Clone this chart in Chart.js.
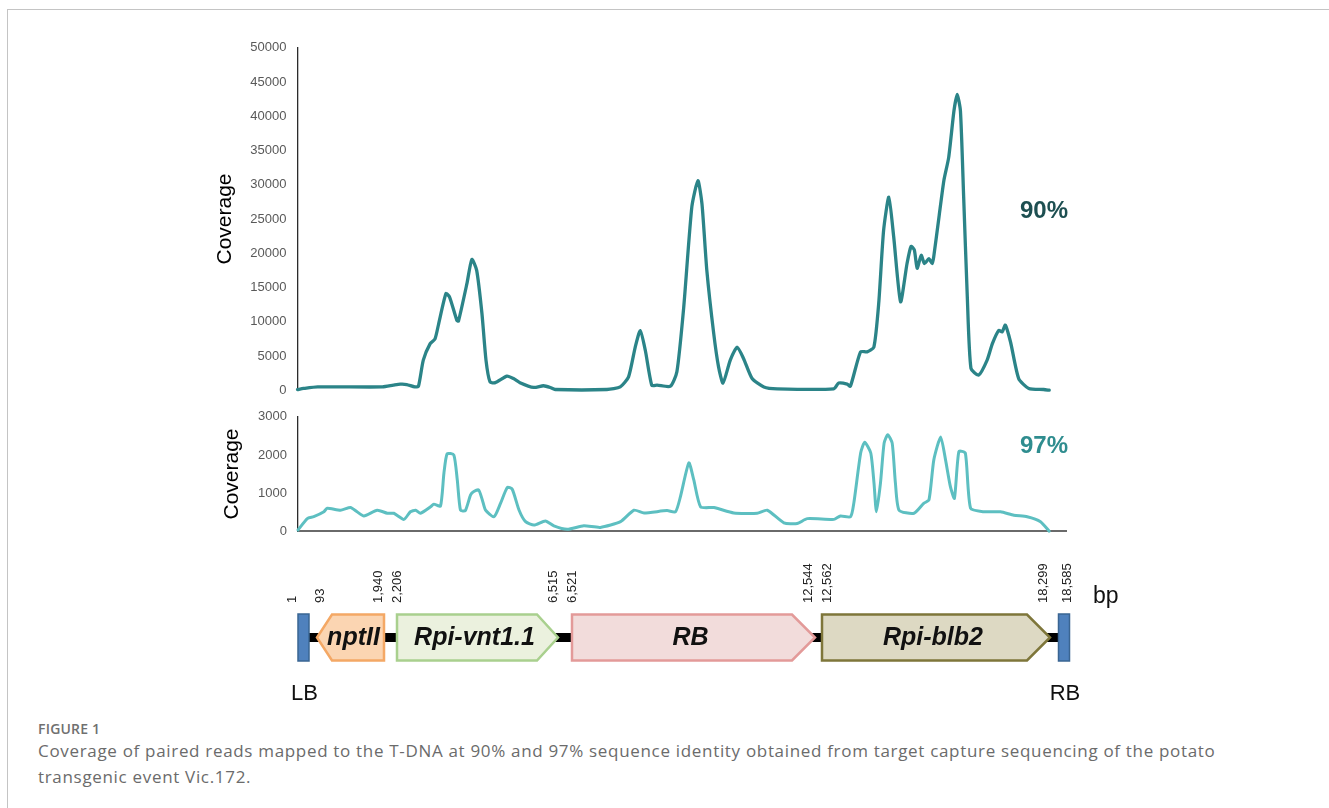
<!DOCTYPE html>
<html>
<head>
<meta charset="utf-8">
<script src="https://cdn.jsdelivr.net/npm/chart.js@4.4.1/dist/chart.umd.min.js"></script>
<style>
  html, body { margin: 0; padding: 0; background: #fff; }
  body { width: 1329px; height: 808px; position: relative; overflow: hidden; font-family: "Liberation Sans", Arial, sans-serif; }
  .frame { position: absolute; left: 7px; top: 9px; right: 0; bottom: 0; border-top: 1px solid #c4c4c4; border-left: 1px solid #c4c4c4; }
  .panel { position: absolute; line-height: 0; }
  .pct { position: absolute; font-family: "Liberation Sans", Arial, sans-serif; font-weight: bold; font-size: 24px; line-height: 28px; }
  .fig { position: absolute; left: 38px; top: 721px; font-family: "Open Sans", sans-serif; font-weight: 600; font-size: 14px; line-height: 16px; letter-spacing: 0.2px; color: #707070; }
  .cap { position: absolute; left: 38px; top: 738px; font-family: "Open Sans", sans-serif; font-size: 17px; line-height: 26px; letter-spacing: 0.68px; color: #6b6b6b; white-space: nowrap; }
</style>
</head>
<body>
<div class="frame"></div>
<div class="panel" style="left:200px;top:29px;"><canvas id="cov90" width="900" height="380"></canvas></div>
<div class="panel" style="left:200px;top:398px;"><canvas id="cov97" width="900" height="152"></canvas></div>
<div class="panel" style="left:200px;top:540px;"><canvas id="tdna" width="950" height="180"></canvas></div>
<div class="pct" style="left:1020px;top:196px;color:#1d4f51;">90%</div>
<div class="pct" style="left:1020px;top:431px;color:#2f8d8f;">97%</div>
<div class="fig">FIGURE 1</div>
<div class="cap">Coverage of paired reads mapped to the T-DNA at 90% and 97% sequence identity obtained from target capture sequencing of the potato<br>transgenic event Vic.172.</div>

<script>
// Read coverage along the T-DNA (position in bp) at 90% identity
const pos90 = [0, 150, 500, 2100, 2370, 2540, 2700, 2900, 2990, 3110, 3280, 3400, 3490, 3670, 3760, 3940, 3980, 4190, 4310, 4430,
  4560, 4660, 4760, 4890, 5180, 5340, 5500, 5840, 6080, 6250, 6370, 7650, 7980, 8185, 8350, 8474, 8600, 8760, 8890, 9220,
  9380, 9550, 9750, 9900, 10000, 10120, 10290, 10410, 10520, 10700, 10870, 11030, 11240, 11530, 11860, 13260, 13380, 13590, 13670, 13920,
  14080, 14250, 14370, 14490, 14620, 14740, 14910, 15070, 15170, 15250, 15320, 15420, 15500, 15610, 15690, 15730, 15860, 15980, 16100, 16230,
  16310, 16390, 16470, 16560, 16650, 16840, 17050, 17180, 17340, 17420, 17500, 17630, 17830, 18080, 18450, 18585];
const cov90 = [100, 250, 480, 480, 730, 875, 830, 480, 580, 4400, 6800, 7500, 9700, 14100, 13600, 10200, 10100, 15600, 19100, 17500,
  11200, 4400, 1200, 1100, 2050, 1700, 1100, 400, 650, 400, 100, 100, 480, 1950, 6300, 8700, 5800, 700, 730, 580,
  2700, 12200, 26800, 30600, 27200, 17500, 8300, 3400, 1050, 4400, 6300, 4600, 1700, 480, 200, 200, 1050, 900, 580, 5600,
  5600, 6300, 12700, 23300, 28200, 22400, 12900, 18500, 21000, 20500, 17800, 19700, 18500, 19200, 18500, 19500, 25300, 30600, 34000, 40800,
  43200, 40800, 28200, 13600, 3200, 2200, 4400, 6800, 8750, 8500, 9500, 7000, 1700, 250, 100, 0];

// Read coverage at 97% identity
const pos97 = [0, 230, 390, 640, 720, 1050, 1300, 1460, 1630, 1960, 2210, 2370, 2620, 2780, 2910, 3030, 3280, 3360, 3525, 3610,
  3690, 3855, 3940, 4020, 4140, 4270, 4350, 4470, 4560, 4640, 4850, 5010, 5180, 5300, 5470, 5630, 5840, 6120, 6330, 6660,
  7070, 7480, 7980, 8310, 8560, 9130, 9340, 9460, 9670, 9790, 9960, 10290, 10780, 11360, 11610, 12020, 12350, 12600, 13260, 13420,
  13670, 13750, 13920, 14020, 14170, 14250, 14310, 14410, 14500, 14590, 14700, 14780, 14870, 15240, 15480, 15610, 15730, 15900, 16020, 16140,
  16240, 16350, 16510, 16640, 16970, 17380, 17710, 18040, 18370, 18585];
const cov97 = [30, 330, 380, 510, 600, 550, 620, 510, 400, 550, 470, 470, 310, 510, 550, 470, 640, 710, 660, 1520,
  2030, 2000, 1350, 550, 540, 950, 1040, 1080, 820, 550, 380, 730, 1150, 1100, 550, 250, 160, 270, 140, 50,
  140, 100, 250, 550, 480, 540, 510, 900, 1790, 1350, 640, 620, 480, 470, 550, 220, 200, 330, 310, 400,
  380, 730, 2050, 2330, 2050, 1260, 510, 1260, 2310, 2530, 2310, 1260, 550, 470, 730, 820, 1870, 2470, 1870, 1170,
  860, 2090, 2050, 600, 510, 510, 420, 380, 250, 0];

// T-DNA map (schematic units along the map)
const geneNames  = ['nptII', 'Rpi-vnt1.1', 'RB', 'Rpi-blb2'];
const geneStart  = [29, 109, 284, 534];
const geneEnd    = [96, 270, 527, 762];
const geneStrand = [-1, 1, 1, 1];
const borderNames = ['LB', 'RB'];
const borderPos   = [15.5, 776];
const bpLabels = ['1', '93', '1,940', '2,206', '6,515', '6,521', '12,544', '12,562', '18,299', '18,585'];
const bpLabelPos = [4, 32, 90, 109, 265, 284, 520, 539, 755, 779];

const FONT = '"Liberation Sans", Arial, sans-serif';

function toPoints(xs, ys) { return xs.map((x, i) => ({ x: x, y: ys[i] })); }

function coverageChart(id, xs, ys, opt) {
  return new Chart(document.getElementById(id), {
    type: 'line',
    data: { datasets: [{
      data: toPoints(xs, ys),
      borderColor: opt.color,
      borderWidth: opt.width,
      pointRadius: 0,
      tension: 0.2,
      borderJoinStyle: 'round',
      borderCapStyle: 'round',
      clip: false
    }] },
    options: {
      responsive: false,
      animation: false,
      layout: { padding: opt.padding },
      plugins: { legend: { display: false }, tooltip: { enabled: false } },
      scales: {
        x: {
          type: 'linear', min: 0, max: 19000,
          display: opt.showX,
          ticks: { display: false },
          grid: { display: false, drawTicks: false },
          border: { display: true, color: '#6a6a6a', width: 2 }
        },
        y: {
          min: 0, max: opt.max,
          ticks: { stepSize: opt.step, padding: 11, color: '#595959', font: { family: FONT, size: 13 },
                   callback: v => String(v) },
          grid: { display: false, drawTicks: false },
          border: { display: true, color: '#2b2b2b', width: 1.3 },
          title: { display: true, text: 'Coverage', color: '#000', font: { family: FONT, size: 21 }, padding: { top: 4, bottom: 4 } },
          afterFit: s => { s.width = opt.axisWidth; }
        }
      }
    }
  });
}

coverageChart('cov90', pos90, cov90, {
  color: '#2b8488', width: 3.3, max: 50000, step: 5000, showX: false, axisWidth: 89.1,
  padding: { left: 8.4, right: 34, top: 0, bottom: 0 }
});
coverageChart('cov97', pos97, cov97, {
  color: '#5dbfc1', width: 3, max: 3000, step: 1000, showX: true, axisWidth: 82.6,
  padding: { left: 15.4, right: 34, top: 0, bottom: 0 }
});

// Drawing styles for the map
const geneFill   = ['#fbd5b2', '#ebf1de', '#f2dcdb', '#ddd9c3'];
const geneStroke = ['#f4a865', '#a9d08e', '#e39a99', '#7e763a'];
const geneHead   = [15, 21, 23, 23];
const BOX_HALF = 23;

const tdnaMap = {
  id: 'tdnaMap',
  afterDraw(chart) {
    const { ctx } = chart;
    const xs = chart.scales.x, ys = chart.scales.y;
    const cy = ys.getPixelForValue(0);
    const X = v => xs.getPixelForValue(v);
    ctx.save();

    // backbone
    ctx.fillStyle = '#000';
    ctx.fillRect(X(borderPos[0]), cy - 4.5, X(borderPos[1]) - X(borderPos[0]), 9);

    // genes as arrows
    geneNames.forEach((name, i) => {
      const a = X(geneStart[i]), b = X(geneEnd[i]), h = geneHead[i];
      ctx.beginPath();
      if (geneStrand[i] > 0) {
        ctx.moveTo(a, cy - BOX_HALF);
        ctx.lineTo(b - h, cy - BOX_HALF);
        ctx.lineTo(b, cy);
        ctx.lineTo(b - h, cy + BOX_HALF);
        ctx.lineTo(a, cy + BOX_HALF);
      } else {
        ctx.moveTo(b, cy - BOX_HALF);
        ctx.lineTo(a + h, cy - BOX_HALF);
        ctx.lineTo(a, cy);
        ctx.lineTo(a + h, cy + BOX_HALF);
        ctx.lineTo(b, cy + BOX_HALF);
      }
      ctx.closePath();
      ctx.fillStyle = geneFill[i];
      ctx.fill();
      ctx.lineWidth = 2.5;
      ctx.strokeStyle = geneStroke[i];
      ctx.stroke();

      ctx.fillStyle = '#111';
      ctx.font = 'italic bold 25px ' + FONT;
      ctx.textAlign = 'center';
      ctx.textBaseline = 'middle';
      ctx.fillText(name, (a + b) / 2 + (geneStrand[i] > 0 ? -3 : 3), cy + 1);
    });

    // T-DNA borders
    borderNames.forEach((name, i) => {
      const c = X(borderPos[i]);
      ctx.fillStyle = '#4f81bd';
      ctx.strokeStyle = '#3a6592';
      ctx.lineWidth = 1.5;
      ctx.beginPath();
      ctx.rect(c - 5.5, cy - BOX_HALF - 0.5, 11, 2 * BOX_HALF + 1);
      ctx.fill();
      ctx.stroke();
      ctx.fillStyle = '#111';
      ctx.font = '22px ' + FONT;
      ctx.textAlign = 'center';
      ctx.textBaseline = 'alphabetic';
      ctx.fillText(name, c + 1, cy + 62.5);
    });

    // coordinate labels
    ctx.fillStyle = '#222';
    ctx.font = '13px ' + FONT;
    ctx.textAlign = 'left';
    ctx.textBaseline = 'middle';
    bpLabels.forEach((t, i) => {
      ctx.save();
      ctx.translate(X(bpLabelPos[i]), cy - 34.5);
      ctx.rotate(-Math.PI / 2);
      ctx.fillText(t, 0, 0);
      ctx.restore();
    });

    ctx.font = '23px ' + FONT;
    ctx.textBaseline = 'alphabetic';
    ctx.fillStyle = '#111';
    ctx.fillText('bp', xs.right + 5, cy - 34.5);
    ctx.restore();
  }
};

new Chart(document.getElementById('tdna'), {
  type: 'scatter',
  data: { datasets: [{ data: [] }] },
  options: {
    responsive: false,
    animation: false,
    layout: { padding: { left: 88, right: 62, top: 40, bottom: 25 } },
    plugins: { legend: { display: false }, tooltip: { enabled: false } },
    scales: {
      x: { type: 'linear', min: 0, max: 800, display: false },
      y: { type: 'linear', min: -1, max: 1, display: false }
    }
  },
  plugins: [tdnaMap]
});
</script>
</body>
</html>
